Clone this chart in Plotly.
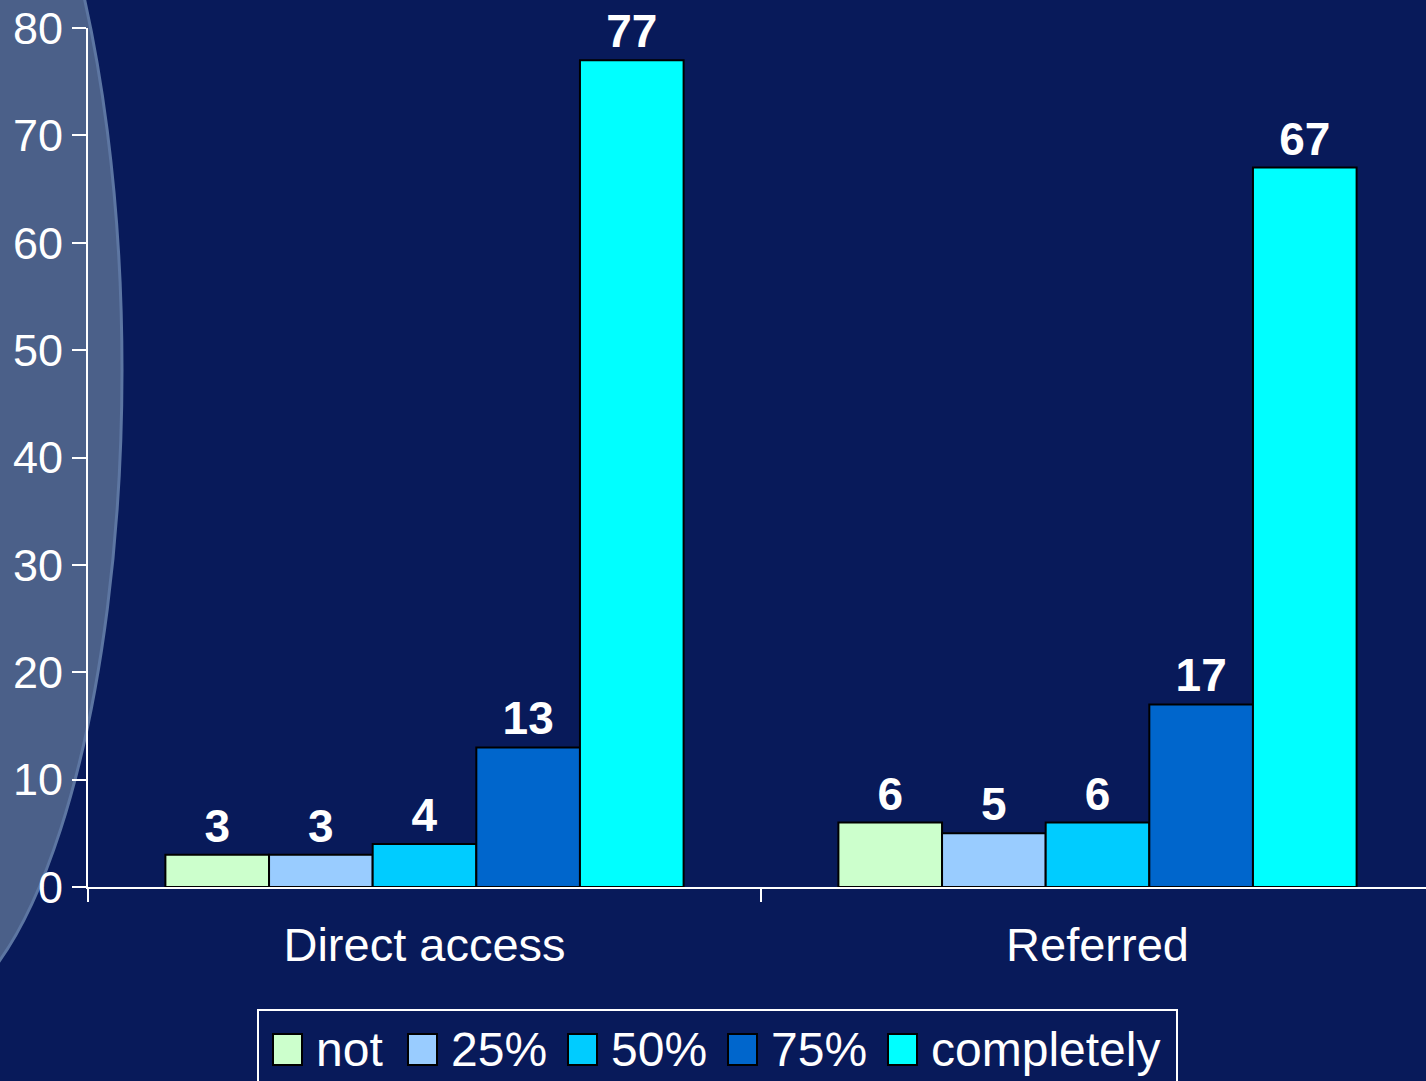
import plotly.graph_objects as go

categories = ["Direct access", "Referred"]
series_names = ["not", "25%", "50%", "75%", "completely"]
series_values = {
    "not": [3, 6],
    "25%": [3, 5],
    "50%": [4, 6],
    "75%": [13, 17],
    "completely": [77, 67],
}
series_colors = {
    "not": "#CCFFCC",
    "25%": "#99CCFF",
    "50%": "#00CCFF",
    "75%": "#0066CC",
    "completely": "#00FFFF",
}
y_ticks = [0, 10, 20, 30, 40, 50, 60, 70, 80]

W, H = 1426, 1081
ML, MR, MT, MB = 88, 0, 28, 194
PW = W - ML - MR
PH = H - MT - MB
BG = "#081a5a"
FONT = "Liberation Sans, Arial, sans-serif"


def px(x):
    return (x - ML) / PW


def py(y):
    return (H - MB - y) / PH


fig = go.Figure()
for name in series_names:
    fig.add_trace(go.Bar(
        x=categories,
        y=series_values[name],
        name=name,
        marker=dict(color=series_colors[name], line=dict(color="black", width=2)),
        text=series_values[name],
        texttemplate="<b>%{text}</b>",
        textposition="outside",
        textfont=dict(color="white", size=46, family=FONT),
        constraintext="none",
        cliponaxis=False,
        showlegend=False,
    ))

shapes = []
# decorative arc on the left
shapes.append(dict(
    type="circle", xref="paper", yref="paper", layer="below",
    x0=px(-298), x1=px(122), y0=py(1020), y1=py(-280),
    fillcolor="#4b6089", line=dict(color="#5d76a2", width=3),
))

# legend box
shapes.append(dict(
    type="rect", xref="paper", yref="paper",
    x0=px(258), x1=px(1177), y0=py(1100), y1=py(1010),
    fillcolor="rgba(0,0,0,0)", line=dict(color="white", width=2),
))
annotations = []
leg_sq_x = [273, 408, 568, 728, 888]
for name, sx in zip(series_names, leg_sq_x):
    shapes.append(dict(
        type="rect", xref="paper", yref="paper",
        x0=px(sx), x1=px(sx + 29), y0=py(1065), y1=py(1034),
        fillcolor=series_colors[name], line=dict(color="black", width=2),
    ))
    annotations.append(dict(
        xref="paper", yref="paper", x=px(sx + 41), y=py(1049),
        xanchor="left", yanchor="middle", text=name, showarrow=False,
        font=dict(color="white", size=48, family=FONT),
    ))

fig.update_layout(
    width=W, height=H,
    margin=dict(l=ML, r=MR, t=MT, b=MB, pad=0),
    paper_bgcolor=BG,
    plot_bgcolor="rgba(0,0,0,0)",
    barmode="group",
    bargap=0.23,
    bargroupgap=0,
    shapes=shapes,
    annotations=annotations,
    showlegend=False,
    xaxis=dict(
        range=[-0.5, -0.5 + PW / 673],
        tickson="boundaries",
        ticks="outside", ticklen=13, tickwidth=2, tickcolor="white",
        showline=True, linecolor="white", linewidth=2,
        showgrid=False, zeroline=False,
        tickfont=dict(color="white", size=47, family=FONT),
        ticklabelstandoff=16,
    ),
    yaxis=dict(
        range=[0, 80],
        tickvals=y_ticks,
        ticks="outside", ticklen=14, tickwidth=2, tickcolor="white",
        showline=True, linecolor="white", linewidth=2,
        showgrid=False, zeroline=False,
        tickfont=dict(color="white", size=45, family=FONT),
        ticklabelstandoff=0,
    ),
)

fig.write_html(
    "out.html",
    config={"displayModeBar": False},
    post_script="document.body.style.margin='0';document.body.style.overflow='hidden';",
)
